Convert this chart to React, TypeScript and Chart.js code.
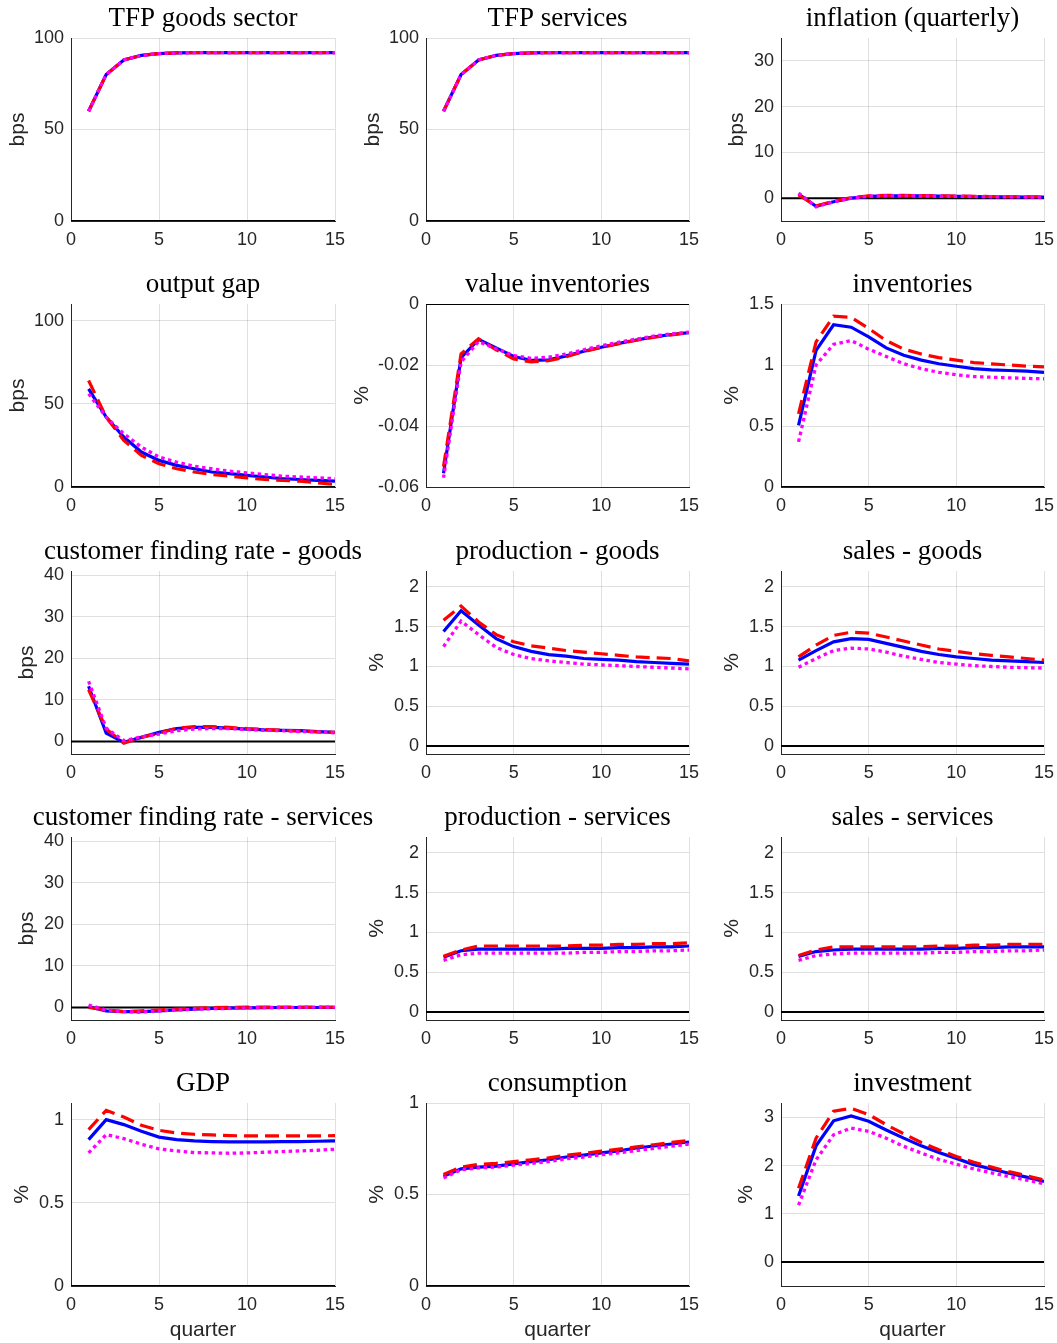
import React, { useEffect, useRef } from "react";
import { Chart, registerables } from "chart.js";

Chart.register(...registerables);

// ---------------- data ----------------
const QUARTERS = [1, 2, 3, 4, 5, 6, 7, 8, 9, 10, 11, 12, 13, 14, 15];
const X_TICKS = [0, 5, 10, 15];
const X_MIN = 0;
const X_MAX = 15;

const tfpGoodsBlue = [60, 80, 88, 90.5, 91.5, 91.9, 92, 92, 92, 92, 92, 92, 92, 92, 92];
const tfpGoodsRed = [60, 80, 88, 90.5, 91.5, 91.9, 92, 92, 92, 92, 92, 92, 92, 92, 92];
const tfpGoodsMagenta = [60, 80, 88, 90.5, 91.5, 91.9, 92, 92, 92, 92, 92, 92, 92, 92, 92];

const tfpServBlue = [60, 80, 88, 90.5, 91.5, 91.9, 92, 92, 92, 92, 92, 92, 92, 92, 92];
const tfpServRed = [60, 80, 88, 90.5, 91.5, 91.9, 92, 92, 92, 92, 92, 92, 92, 92, 92];
const tfpServMagenta = [60, 80, 88, 90.5, 91.5, 91.9, 92, 92, 92, 92, 92, 92, 92, 92, 92];

const inflBlue = [0.9, -1.8, -0.8, 0.0, 0.4, 0.5, 0.5, 0.5, 0.45, 0.4, 0.35, 0.3, 0.3, 0.25, 0.25];
const inflRed = [0.7, -1.7, -0.7, 0.1, 0.5, 0.6, 0.6, 0.55, 0.5, 0.45, 0.4, 0.35, 0.3, 0.3, 0.3];
const inflMagenta = [1.1, -1.9, -0.8, 0.0, 0.4, 0.5, 0.5, 0.45, 0.4, 0.4, 0.35, 0.3, 0.3, 0.25, 0.25];

const gapBlue = [59, 42, 30, 21, 16, 13, 11, 9, 8, 7, 6, 5, 4.5, 4, 3.5];
const gapRed = [64, 42, 28, 19, 14, 11, 9, 7.5, 6.5, 5.5, 4.5, 4, 3.5, 2.5, 1.5];
const gapMagenta = [56, 42, 32, 24, 18, 15, 12.5, 11, 9.5, 8.5, 7.5, 6.5, 6, 5.5, 5];

const valInvBlue = [-0.0555, -0.0176, -0.0116, -0.0144, -0.0172, -0.0185, -0.0183, -0.017, -0.0155, -0.0142, -0.0129, -0.0118, -0.0108, -0.01, -0.0094];
const valInvRed = [-0.0533, -0.0163, -0.0114, -0.015, -0.018, -0.019, -0.0186, -0.0173, -0.0156, -0.0142, -0.013, -0.0119, -0.0109, -0.0101, -0.0094];
const valInvMagenta = [-0.057, -0.019, -0.0123, -0.0147, -0.0169, -0.0178, -0.0174, -0.0164, -0.015, -0.0137, -0.0125, -0.0115, -0.0105, -0.0098, -0.0092];

const invBlue = [0.505, 1.12, 1.33, 1.31, 1.23, 1.14, 1.08, 1.04, 1.01, 0.99, 0.97, 0.96, 0.955, 0.95, 0.94];
const invRed = [0.6, 1.19, 1.4, 1.39, 1.3, 1.2, 1.13, 1.09, 1.06, 1.04, 1.02, 1.01, 1.0, 0.99, 0.985];
const invMagenta = [0.37, 1.0, 1.17, 1.2, 1.13, 1.07, 1.01, 0.97, 0.94, 0.92, 0.905, 0.9, 0.895, 0.89, 0.887];

const cfrGoodsBlue = [13.3, 2.0, -0.2, 1.0, 2.2, 3.1, 3.4, 3.4, 3.2, 3.0, 2.8, 2.7, 2.6, 2.4, 2.2];
const cfrGoodsRed = [12.5, 3.0, -0.4, 1.0, 2.0, 3.2, 3.6, 3.6, 3.4, 3.1, 2.9, 2.7, 2.5, 2.3, 2.2];
const cfrGoodsMagenta = [14.5, 3.2, 0.2, 1.1, 1.8, 2.6, 3.0, 3.1, 3.1, 2.9, 2.7, 2.6, 2.4, 2.3, 2.1];

const prodGoodsBlue = [1.44, 1.7, 1.52, 1.35, 1.25, 1.19, 1.15, 1.13, 1.1, 1.09, 1.08, 1.06, 1.05, 1.04, 1.03];
const prodGoodsRed = [1.58, 1.76, 1.56, 1.4, 1.31, 1.26, 1.23, 1.2, 1.18, 1.16, 1.14, 1.12, 1.11, 1.1, 1.07];
const prodGoodsMagenta = [1.25, 1.57, 1.4, 1.24, 1.15, 1.1, 1.07, 1.05, 1.03, 1.02, 1.01, 1.0, 0.99, 0.98, 0.97];

const salesGoodsBlue = [1.08, 1.2, 1.31, 1.35, 1.34, 1.29, 1.24, 1.19, 1.15, 1.12, 1.1, 1.08, 1.07, 1.06, 1.05];
const salesGoodsRed = [1.12, 1.27, 1.39, 1.43, 1.42, 1.37, 1.32, 1.27, 1.22, 1.19, 1.16, 1.14, 1.12, 1.1, 1.08];
const salesGoodsMagenta = [0.99, 1.1, 1.2, 1.23, 1.22, 1.18, 1.13, 1.09, 1.05, 1.03, 1.01, 1.0, 0.99, 0.985, 0.98];

const cfrServBlue = [0.2, -0.8, -1.0, -1.0, -0.8, -0.6, -0.4, -0.2, -0.15, -0.1, -0.05, 0, 0, 0, 0];
const cfrServRed = [0.0, -0.6, -1.0, -0.8, -0.6, -0.4, -0.2, 0, 0.05, 0.1, 0.1, 0.1, 0.1, 0.1, 0.1];
const cfrServMagenta = [0.6, -0.6, -1.0, -1.1, -0.8, -0.6, -0.4, -0.3, -0.2, -0.1, 0, 0, 0.05, 0.1, 0.1];

const prodServBlue = [0.69, 0.77, 0.79, 0.79, 0.79, 0.79, 0.79, 0.8, 0.8, 0.8, 0.81, 0.81, 0.82, 0.82, 0.83];
const prodServRed = [0.7, 0.78, 0.83, 0.83, 0.83, 0.83, 0.83, 0.83, 0.84, 0.84, 0.85, 0.85, 0.86, 0.86, 0.87];
const prodServMagenta = [0.65, 0.72, 0.74, 0.74, 0.74, 0.74, 0.74, 0.74, 0.75, 0.75, 0.76, 0.76, 0.77, 0.77, 0.78];

const salesServBlue = [0.7, 0.76, 0.78, 0.79, 0.79, 0.79, 0.79, 0.79, 0.8, 0.8, 0.81, 0.81, 0.82, 0.82, 0.82];
const salesServRed = [0.71, 0.78, 0.82, 0.82, 0.82, 0.82, 0.82, 0.82, 0.83, 0.83, 0.84, 0.84, 0.85, 0.85, 0.85];
const salesServMagenta = [0.65, 0.71, 0.73, 0.74, 0.74, 0.74, 0.74, 0.74, 0.75, 0.75, 0.76, 0.76, 0.77, 0.77, 0.78];

const gdpBlue = [0.88, 1.0, 0.97, 0.93, 0.895, 0.88, 0.872, 0.868, 0.866, 0.866, 0.866, 0.868, 0.868, 0.87, 0.872];
const gdpRed = [0.94, 1.056, 1.016, 0.966, 0.936, 0.92, 0.912, 0.908, 0.904, 0.902, 0.902, 0.902, 0.902, 0.902, 0.904];
const gdpMagenta = [0.8, 0.91, 0.886, 0.852, 0.824, 0.812, 0.802, 0.8, 0.798, 0.8, 0.804, 0.808, 0.812, 0.816, 0.822];

const consBlue = [0.6, 0.64, 0.65, 0.655, 0.667, 0.68, 0.69, 0.705, 0.715, 0.727, 0.738, 0.754, 0.765, 0.776, 0.787];
const consRed = [0.61, 0.65, 0.665, 0.67, 0.68, 0.69, 0.7, 0.715, 0.725, 0.737, 0.748, 0.76, 0.772, 0.785, 0.795];
const consMagenta = [0.59, 0.635, 0.645, 0.65, 0.66, 0.67, 0.68, 0.695, 0.705, 0.717, 0.728, 0.74, 0.752, 0.764, 0.775];

const investBlue = [1.37, 2.41, 2.93, 3.03, 2.92, 2.74, 2.57, 2.41, 2.27, 2.15, 2.02, 1.93, 1.84, 1.76, 1.67];
const investRed = [1.53, 2.57, 3.13, 3.19, 3.06, 2.85, 2.66, 2.48, 2.33, 2.19, 2.07, 1.97, 1.875, 1.79, 1.7];
const investMagenta = [1.18, 2.12, 2.64, 2.78, 2.71, 2.57, 2.4, 2.26, 2.13, 2.03, 1.93, 1.85, 1.77, 1.7, 1.62];

const TICKS_100 = [0, 50, 100];
const TICKS_INFL = [0, 10, 20, 30];
const TICKS_VALINV = [-0.06, -0.04, -0.02, 0];
const TICKS_INV = [0, 0.5, 1, 1.5];
const TICKS_CFR = [0, 10, 20, 30, 40];
const TICKS_PROD = [0, 0.5, 1, 1.5, 2];
const TICKS_GDP = [0, 0.5, 1];
const TICKS_INVEST = [0, 1, 2, 3];

type Panel = {
  title: string;
  ylabel: string;
  yMin: number;
  yMax: number;
  yTicks: number[];
  blue: number[];
  red: number[];
  magenta: number[];
};

const PANELS: Panel[] = [
  { title: "TFP goods sector", ylabel: "bps", yMin: 0, yMax: 100, yTicks: TICKS_100, blue: tfpGoodsBlue, red: tfpGoodsRed, magenta: tfpGoodsMagenta },
  { title: "TFP services", ylabel: "bps", yMin: 0, yMax: 100, yTicks: TICKS_100, blue: tfpServBlue, red: tfpServRed, magenta: tfpServMagenta },
  { title: "inflation (quarterly)", ylabel: "bps", yMin: -5, yMax: 35, yTicks: TICKS_INFL, blue: inflBlue, red: inflRed, magenta: inflMagenta },
  { title: "output gap", ylabel: "bps", yMin: 0, yMax: 110, yTicks: TICKS_100, blue: gapBlue, red: gapRed, magenta: gapMagenta },
  { title: "value inventories", ylabel: "%", yMin: -0.06, yMax: 0, yTicks: TICKS_VALINV, blue: valInvBlue, red: valInvRed, magenta: valInvMagenta },
  { title: "inventories", ylabel: "%", yMin: 0, yMax: 1.5, yTicks: TICKS_INV, blue: invBlue, red: invRed, magenta: invMagenta },
  { title: "customer finding rate - goods", ylabel: "bps", yMin: -3, yMax: 41, yTicks: TICKS_CFR, blue: cfrGoodsBlue, red: cfrGoodsRed, magenta: cfrGoodsMagenta },
  { title: "production - goods", ylabel: "%", yMin: -0.1, yMax: 2.2, yTicks: TICKS_PROD, blue: prodGoodsBlue, red: prodGoodsRed, magenta: prodGoodsMagenta },
  { title: "sales - goods", ylabel: "%", yMin: -0.1, yMax: 2.2, yTicks: TICKS_PROD, blue: salesGoodsBlue, red: salesGoodsRed, magenta: salesGoodsMagenta },
  { title: "customer finding rate - services", ylabel: "bps", yMin: -3, yMax: 41, yTicks: TICKS_CFR, blue: cfrServBlue, red: cfrServRed, magenta: cfrServMagenta },
  { title: "production - services", ylabel: "%", yMin: -0.1, yMax: 2.2, yTicks: TICKS_PROD, blue: prodServBlue, red: prodServRed, magenta: prodServMagenta },
  { title: "sales - services", ylabel: "%", yMin: -0.1, yMax: 2.2, yTicks: TICKS_PROD, blue: salesServBlue, red: salesServRed, magenta: salesServMagenta },
  { title: "GDP", ylabel: "%", yMin: 0, yMax: 1.1, yTicks: TICKS_GDP, blue: gdpBlue, red: gdpRed, magenta: gdpMagenta },
  { title: "consumption", ylabel: "%", yMin: 0, yMax: 1, yTicks: TICKS_GDP, blue: consBlue, red: consRed, magenta: consMagenta },
  { title: "investment", ylabel: "%", yMin: -0.5, yMax: 3.3, yTicks: TICKS_INVEST, blue: investBlue, red: investRed, magenta: investMagenta },
];

// ---------------- layout ----------------
const PLOT_LEFT = [71, 426, 781];
const PLOT_RIGHT = [335, 689, 1044];
const CANVAS_LEFT = [0, 345, 700];
const PLOT_TOP = [38, 304, 571, 837, 1103];
const PLOT_H = 183;
const TITLE_H = 38;
const YLABEL_X = [
  [18, 373, 737],
  [18, 362, 732],
  [27, 377, 732],
  [27, 377, 732],
  [22, 377, 746],
];

const SANS = '"Liberation Sans", Arial, Helvetica, sans-serif';
const SERIF = '"Liberation Serif", "DejaVu Serif", serif';
const AXIS_COLOR = "#262626";
const GRID_COLOR = "rgba(38,38,38,0.14)";
const TITLE_SIZE = 27;
const LABEL_SIZE = 21;
const TICK_SIZE = 18;

function PanelChart({ panel, row, col }: { panel: Panel; row: number; col: number }) {
  const ref = useRef<HTMLCanvasElement | null>(null);
  const isLast = row === 4;
  const yW = PLOT_LEFT[col] - CANVAS_LEFT[col];
  const plotW = PLOT_RIGHT[col] - PLOT_LEFT[col];
  const xH = isLast ? 57 : 40;
  const width = yW * 2 + plotW;
  const height = TITLE_H + PLOT_H + xH;
  const left = CANVAS_LEFT[col];
  const top = PLOT_TOP[row] - TITLE_H;

  useEffect(() => {
    if (!ref.current) return;
    const toPts = (arr: number[]) => QUARTERS.map((q, i) => ({ x: q, y: arr[i] }));
    const lh = TITLE_SIZE * 1.2;
    const titleTopPad = 3.2;
    const labelLh = LABEL_SIZE * 1.2;
    const labelPad = YLABEL_X[row][col] - left - labelLh / 2;
    const chart = new Chart(ref.current, {
      type: "line",
      data: {
        datasets: [
          {
            data: toPts(panel.magenta),
            borderColor: "#ff00ff",
            borderWidth: 3.3,
            borderDash: [3.5, 3.5],
            pointRadius: 0,
            tension: 0,
            fill: false,
            order: 0,
          },
          {
            data: toPts(panel.red),
            borderColor: "#ff0000",
            borderWidth: 3.2,
            borderDash: [14, 7],
            pointRadius: 0,
            tension: 0,
            fill: false,
            order: 1,
          },
          {
            data: toPts(panel.blue),
            borderColor: "#0000ff",
            borderWidth: 3.2,
            pointRadius: 0,
            tension: 0,
            fill: false,
            order: 2,
          },
          {
            data: [
              { x: X_MIN, y: 0 },
              { x: X_MAX, y: 0 },
            ],
            borderColor: "#000000",
            borderWidth: 2,
            pointRadius: 0,
            tension: 0,
            fill: false,
            order: 3,
          },
        ],
      },
      options: {
        responsive: false,
        maintainAspectRatio: false,
        animation: false,
        devicePixelRatio: 1,
        events: [],
        layout: { padding: 0 },
        plugins: {
          legend: { display: false },
          tooltip: { enabled: false },
          title: {
            display: true,
            text: panel.title,
            color: "#000000",
            font: { family: SERIF, size: TITLE_SIZE, weight: "normal", lineHeight: 1.2 },
            padding: { top: titleTopPad, bottom: TITLE_H - lh - titleTopPad },
          },
        },
        scales: {
          x: {
            type: "linear",
            position: "bottom",
            min: X_MIN,
            max: X_MAX,
            afterBuildTicks: (s: any) => {
              s.ticks = X_TICKS.map((v) => ({ value: v }));
            },
            afterFit: (s: any) => {
              s.height = xH;
            },
            ticks: {
              color: AXIS_COLOR,
              font: { family: SANS, size: TICK_SIZE },
              padding: 8,
              maxRotation: 0,
              autoSkip: false,
              callback: (v: any) => String(v),
            },
            grid: { color: GRID_COLOR, lineWidth: 1, drawTicks: false },
            border: { display: true, color: AXIS_COLOR, width: 1 },
            title: {
              display: isLast,
              text: "quarter",
              color: AXIS_COLOR,
              font: { family: SANS, size: LABEL_SIZE, lineHeight: 1.2 },
              padding: { top: 0, bottom: 13 - labelLh / 2 },
            },
          },
          y: {
            type: "linear",
            position: "left",
            min: panel.yMin,
            max: panel.yMax,
            afterBuildTicks: (s: any) => {
              s.ticks = panel.yTicks.map((v) => ({ value: v }));
            },
            afterFit: (s: any) => {
              s.width = yW;
            },
            ticks: {
              color: AXIS_COLOR,
              font: { family: SANS, size: TICK_SIZE },
              padding: 7,
              autoSkip: false,
              callback: (v: any) => String(v),
            },
            grid: { color: GRID_COLOR, lineWidth: 1, drawTicks: false },
            border: { display: true, color: AXIS_COLOR, width: 1 },
            title: {
              display: true,
              text: panel.ylabel,
              color: AXIS_COLOR,
              font: { family: SANS, size: LABEL_SIZE, lineHeight: 1.2 },
              padding: { top: Math.max(0, labelPad), bottom: 0 },
            },
          },
          yRight: {
            type: "linear",
            position: "right",
            display: true,
            grid: { display: false, drawTicks: false },
            border: { display: false },
            ticks: { display: false },
            afterFit: (s: any) => {
              s.width = yW;
            },
          },
        },
      } as any,
    });
    return () => chart.destroy();
  }, [panel, row, col]);

  return (
    <canvas
      ref={ref}
      width={width}
      height={height}
      style={{ position: "absolute", left, top, width, height, display: "block" }}
    />
  );
}

export default function App() {
  return (
    <div
      style={{
        position: "absolute",
        left: 0,
        top: 0,
        width: 1057,
        height: 1343,
        overflow: "hidden",
        background: "#ffffff",
      }}
    >
      {PANELS.map((p, i) => (
        <PanelChart key={i} panel={p} row={Math.floor(i / 3)} col={i % 3} />
      ))}
    </div>
  );
}
